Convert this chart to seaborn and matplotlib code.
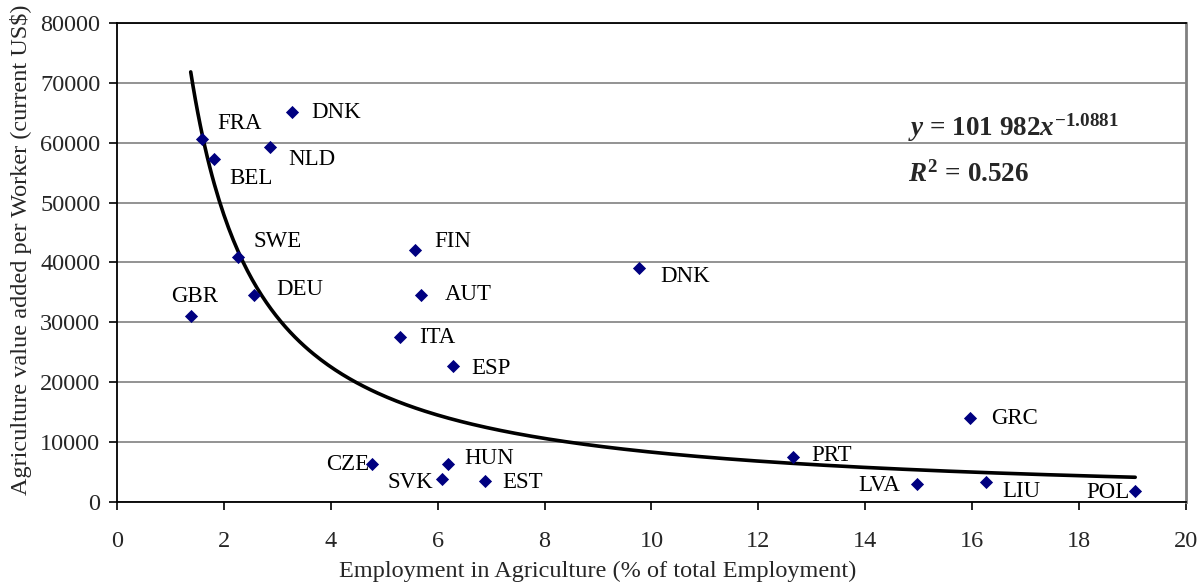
import numpy as np
import pandas as pd
import matplotlib
matplotlib.use("Agg")
import matplotlib.pyplot as plt
import seaborn as sns

# Country codes, agricultural employment share (%) and value added per worker (US$)
countries = ["FRA", "BEL", "DNK", "NLD", "SWE", "DEU", "GBR", "FIN", "AUT", "ITA",
             "ESP", "CZE", "HUN", "SVK", "EST", "DNK", "GRC", "PRT", "LVA", "LIU", "POL"]
employment = [1.59, 1.81, 3.27, 2.86, 2.26, 2.56, 1.38, 5.58, 5.69, 5.29,
              6.29, 4.77, 6.19, 6.08, 6.88, 9.77, 15.96, 12.65, 14.97, 16.26, 19.05]
value_added = [60600, 57300, 65100, 59300, 40900, 34500, 31100, 42100, 34500, 27500,
               22700, 6300, 6300, 3800, 3500, 39000, 14000, 7500, 3000, 3300, 1800]

# Label offsets in points (dx, dy) and horizontal alignment
label_dx = [11, 11, 14, 13, 11, 16, 3, 14, 17, 14, 13, -2, 12, -6, 13, 15, 15, 13, -12, 12, -4]
label_dy = [11, -14, 0, -9, 11, 4, 14, 6, 1, 0, -2, 0, 4, -2, -1, -6, 0, 1, -1, -7, -1]
label_ha = ["left", "left", "left", "left", "left", "left", "center", "left", "left", "left",
            "left", "right", "left", "right", "left", "left", "left", "left", "right", "left", "right"]

# Power-law fit y = a * x^b
fit_a = 101982
fit_b = -1.0881
fit_r2 = 0.526

df = pd.DataFrame({"country": countries, "emp": employment, "va": value_added})

sns.set_theme(style="white")
plt.rcParams["font.family"] = ["Liberation Serif", "DejaVu Serif"]
plt.rcParams["mathtext.fontset"] = "custom"
plt.rcParams["mathtext.rm"] = "Liberation Serif:bold"
plt.rcParams["mathtext.it"] = "Liberation Serif:italic:bold"
plt.rcParams["mathtext.bf"] = "Liberation Serif:bold"

fig = plt.figure(figsize=(11.97, 5.85), dpi=100)
ax = fig.add_axes([0.0977, 0.1419, 0.8931, 0.8188])

# Horizontal gridlines
ax.set_axisbelow(True)
ax.yaxis.grid(True, color="#808080", linewidth=1.2)
ax.xaxis.grid(False)

# Fitted curve
xs = np.linspace(min(employment), max(employment), 400)
ys = fit_a * xs ** fit_b
sns.lineplot(x=xs, y=ys, ax=ax, color="black", linewidth=2.6, zorder=2)

# Country points
sns.scatterplot(data=df, x="emp", y="va", ax=ax, marker="D", s=45,
                color="#000080", edgecolor="#000080", linewidth=0, zorder=3)

for name, x, y, dx, dy, ha in zip(countries, employment, value_added, label_dx, label_dy, label_ha):
    ax.annotate(name, (x, y), xytext=(dx, dy), textcoords="offset points",
                ha=ha, va="center", fontsize=16.5, color="black", zorder=4)

# Fit equation and R^2
ax.text(0.740, 0.781, r"$y$ = 101 982$x^{-1.0881}$", transform=ax.transAxes,
        fontsize=19.5, fontweight="bold", ha="left", va="center")
ax.text(0.740, 0.683, r"$R^{2}$ = 0.526", transform=ax.transAxes,
        fontsize=19.5, fontweight="bold", ha="left", va="center")

ax.set_xlim(0, 20)
ax.set_ylim(0, 80000)
ax.set_xticks(np.arange(0, 21, 2))
ax.set_yticks(np.arange(0, 80001, 10000))
ax.tick_params(axis="both", which="major", labelsize=17.5, direction="out",
               length=6, width=1.2, color="black", left=True, bottom=True)
ax.tick_params(axis="x", pad=15)
ax.tick_params(axis="y", pad=6)

ax.set_xlabel("Employment in Agriculture (% of total Employment)", fontsize=17.5)
ax.set_ylabel("Agriculture value added per Worker (current US$)", fontsize=17.5)
ax.xaxis.set_label_coords(0.45, -0.122)
ax.yaxis.set_label_coords(-0.079, 0.526)

for side in ["left", "bottom", "top"]:
    ax.spines[side].set_visible(True)
    ax.spines[side].set_color("black")
    ax.spines[side].set_linewidth(1.3)
ax.spines["right"].set_visible(True)
ax.spines["right"].set_color("#808080")
ax.spines["right"].set_linewidth(2)

fig.savefig("out.png", dpi=100, facecolor="white")
